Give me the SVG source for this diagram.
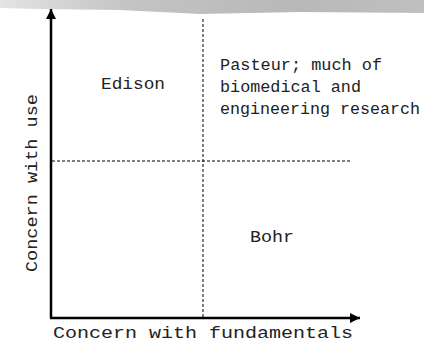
<svg xmlns="http://www.w3.org/2000/svg" width="424" height="348" viewBox="0 0 424 348">
  <style>
    .lbl { font-family: "Liberation Mono", "Courier New", monospace; font-size: 16px; fill: #222; }
    .axis { stroke: #000; stroke-width: 2.5; fill: none; }
    .grid { stroke: #000; stroke-width: 1; stroke-dasharray: 3 2; fill: none; }
  </style>
  <defs>
    <linearGradient id="band" x1="0" y1="0" x2="1" y2="0">
      <stop offset="0" stop-color="#e4e4e4"/>
      <stop offset="0.3" stop-color="#c4c4c4"/>
      <stop offset="0.7" stop-color="#b8b8b8"/>
      <stop offset="1" stop-color="#c0c0c0"/>
    </linearGradient>
    <marker id="head" viewBox="0 0 10 10" refX="10" refY="5" markerWidth="10" markerHeight="10" markerUnits="userSpaceOnUse" orient="auto">
      <path d="M0,0 L10,5 L0,10 Z" fill="#000"/>
    </marker>
  </defs>

  <!-- decorative brush band along the top edge -->
  <path d="M0,0 L424,0 L424,13 L300,12 L200,14 L120,10 L40,9 L0,8 Z" fill="url(#band)"/>

  <g id="connectors">
    <line class="axis" x1="51" y1="318" x2="51" y2="9" marker-end="url(#head)"/>
    <line class="axis" x1="50" y1="318" x2="360" y2="318" marker-end="url(#head)"/>
    <line class="grid" x1="203" y1="19" x2="203" y2="317"/>
    <line class="grid" x1="52" y1="161" x2="351" y2="161"/>
  </g>

  <g id="edison">
    <text class="lbl" x="101" y="89" textLength="64" lengthAdjust="spacingAndGlyphs">Edison</text>
  </g>
  <g id="pasteur">
    <text class="lbl" x="220" y="70" textLength="162" lengthAdjust="spacingAndGlyphs">Pasteur; much of</text>
    <text class="lbl" x="220" y="92" textLength="141" lengthAdjust="spacingAndGlyphs">biomedical and</text>
    <text class="lbl" x="220" y="114" textLength="200" lengthAdjust="spacingAndGlyphs">engineering research</text>
  </g>
  <g id="bohr">
    <text class="lbl" x="250" y="242" textLength="44" lengthAdjust="spacingAndGlyphs">Bohr</text>
  </g>
  <g id="x-label">
    <text class="lbl" x="53" y="338" textLength="300" lengthAdjust="spacingAndGlyphs">Concern with fundamentals</text>
  </g>
  <g id="y-label">
    <text class="lbl" transform="translate(37,272) rotate(-90)" x="0" y="0" textLength="178" lengthAdjust="spacingAndGlyphs">Concern with use</text>
  </g>
</svg>
